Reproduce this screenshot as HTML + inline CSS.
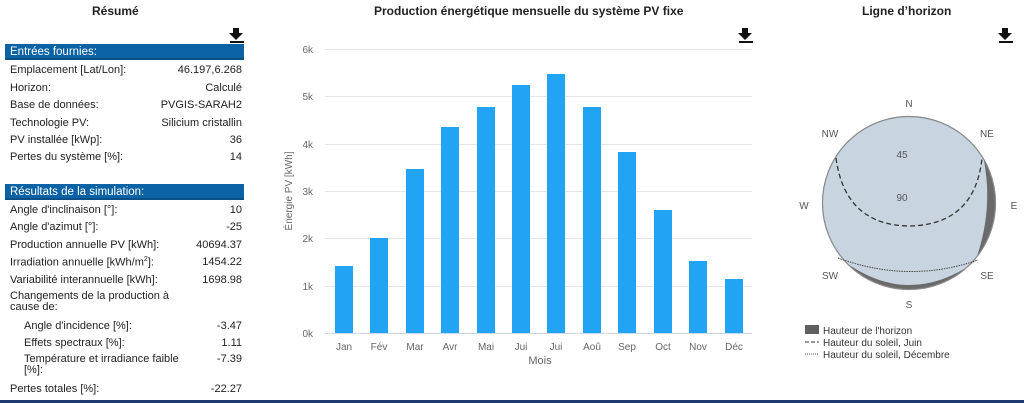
<!DOCTYPE html>
<html><head><meta charset="utf-8"><style>
body{margin:0;width:1024px;height:403px;background:#fff;font-family:"Liberation Sans",sans-serif;position:relative;overflow:hidden}
.hd{position:absolute;left:5px;width:239px;height:16px;background:#0b62a4;color:#fff;font-size:11.5px;line-height:16px;padding-left:5px;box-sizing:border-box;border-bottom:2px solid #0a4f85}
.r{position:absolute;left:10px;width:232px;font-size:11px;color:#222}
.r span{position:absolute;right:0;top:0}
.title{position:absolute;font-weight:bold;font-size:12px;color:#222}
</style></head><body>
<div class="title" style="left:92px;top:4px">Résumé</div>
<div class="title" style="left:374px;top:4px">Production énergétique mensuelle du système PV fixe</div>
<div class="title" style="left:862px;top:4px">Ligne d’horizon</div>
<svg style="position:absolute;left:0;top:0" width="1024" height="403">
<g fill="#111"><path d="M233 28h6v5h4l-7 7-7-7h4z"/><rect x="230" y="41" width="14" height="2"/>
<path d="M742 28h6v5h4l-7 7-7-7h4z"/><rect x="739" y="41" width="14" height="2"/>
<path d="M1002 28h6v5h4l-7 7-7-7h4z"/><rect x="999" y="41" width="14" height="2"/></g>
<rect x="0" y="400" width="1024" height="3" fill="#1f3a6e"/>
<g stroke="#e6e6e6" stroke-width="1">
<line x1="325" x2="752" y1="49.5" y2="49.5"/><line x1="325" x2="752" y1="96.5" y2="96.5"/><line x1="325" x2="752" y1="144.5" y2="144.5"/><line x1="325" x2="752" y1="191.5" y2="191.5"/><line x1="325" x2="752" y1="238.5" y2="238.5"/><line x1="325" x2="752" y1="286.5" y2="286.5"/></g>
<line x1="325" x2="752" y1="333.5" y2="333.5" stroke="#ccd6eb"/>
<g fill="#666" font-size="10" text-anchor="end">
<text x="313" y="53">6k</text><text x="313" y="100">5k</text><text x="313" y="148">4k</text><text x="313" y="195">3k</text><text x="313" y="242">2k</text><text x="313" y="290">1k</text><text x="313" y="337">0k</text></g>
<text transform="translate(292,191) rotate(-90)" font-size="10" fill="#666" text-anchor="middle">Énergie PV [kWh]</text>
<g fill="#20a4f3">
<rect x="335" y="266" width="18" height="67"/><rect x="370" y="238" width="18" height="95"/><rect x="406" y="169" width="18" height="164"/><rect x="441" y="127" width="18" height="206"/><rect x="477" y="107" width="18" height="226"/><rect x="512" y="85" width="18" height="248"/><rect x="547" y="74" width="18" height="259"/><rect x="583" y="107" width="18" height="226"/><rect x="618" y="152" width="18" height="181"/><rect x="654" y="210" width="18" height="123"/><rect x="689" y="261" width="18" height="72"/><rect x="725" y="279" width="18" height="54"/></g>
<g fill="#666" font-size="10" text-anchor="middle">
<text x="344" y="350">Jan</text><text x="379" y="350">Fév</text><text x="415" y="350">Mar</text><text x="450" y="350">Avr</text><text x="486" y="350">Mai</text><text x="521" y="350">Jui</text><text x="556" y="350">Jui</text><text x="592" y="350">Aoû</text><text x="627" y="350">Sep</text><text x="663" y="350">Oct</text><text x="698" y="350">Nov</text><text x="734" y="350">Déc</text>
<text x="540" y="364" font-size="11">Mois</text></g>
<circle cx="909" cy="203" r="87" fill="#6a6a6a"/>
<path d="M834.5 158 A87 87 0 0 1 983.5 158 Q994 210 975 262 Q909 308 845 262 A87 87 0 0 1 834.5 158Z" fill="#c8d5e0"/>
<circle cx="909" cy="203" r="86.5" fill="none" stroke="#8a8a8a" stroke-width="1.2"/>
<path d="M836 158 Q845 225 909 226 Q975 225 982 158" fill="none" stroke="#333" stroke-width="1.3" stroke-dasharray="5,3"/>
<path d="M838 258 Q909 284 978 260" fill="none" stroke="#444" stroke-width="1" stroke-dasharray="1.5,1"/>
<g fill="#555" font-size="10" text-anchor="middle">
<text x="909" y="107">N</text><text x="909" y="308">S</text><text x="804" y="209">W</text><text x="1014" y="209">E</text>
<text x="830" y="137">NW</text><text x="987" y="137">NE</text><text x="830" y="279">SW</text><text x="987" y="279">SE</text>
<text x="902" y="158">45</text><text x="902" y="201">90</text></g>
<rect x="805" y="325" width="14" height="9" fill="#5f5f5f"/>
<line x1="805" x2="819" y1="342" y2="342" stroke="#333" stroke-dasharray="4,2"/>
<line x1="805" x2="819" y1="354" y2="354" stroke="#555" stroke-dasharray="1,1"/>
<g fill="#333" font-size="10"><text x="823" y="334">Hauteur de l'horizon</text><text x="823" y="346">Hauteur du soleil, Juin</text><text x="823" y="358">Hauteur du soleil, Décembre</text></g>
</svg>
<div class="hd" style="top:44px">Entrées fournies:</div>
<div class="r" style="top:64px">Emplacement [Lat/Lon]:<span>46.197,6.268</span></div>
<div class="r" style="top:82px">Horizon:<span>Calculé</span></div>
<div class="r" style="top:99px">Base de données:<span>PVGIS-SARAH2</span></div>
<div class="r" style="top:117px">Technologie PV:<span>Silicium cristallin</span></div>
<div class="r" style="top:134px">PV installée [kWp]:<span>36</span></div>
<div class="r" style="top:151px">Pertes du système [%]:<span>14</span></div>
<div class="hd" style="top:184px">Résultats de la simulation:</div>
<div class="r" style="top:204px">Angle d'inclinaison [°]:<span>10</span></div>
<div class="r" style="top:221px">Angle d'azimut [°]:<span>-25</span></div>
<div class="r" style="top:239px">Production annuelle PV [kWh]:<span>40694.37</span></div>
<div class="r" style="top:256px">Irradiation annuelle [kWh/m<sup style="font-size:7px">2</sup>]:<span>1454.22</span></div>
<div class="r" style="top:274px">Variabilité interannuelle [kWh]:<span>1698.98</span></div>
<div class="r" style="top:291px;line-height:11px">Changements de la production à<br>cause de:</div>
<div class="r" style="top:320px;left:24px;width:218px">Angle d'incidence [%]:<span>-3.47</span></div>
<div class="r" style="top:337px;left:24px;width:218px">Effets spectraux [%]:<span>1.11</span></div>
<div class="r" style="top:354px;left:24px;width:218px;line-height:11px">Température et irradiance faible<br>[%]:<span>-7.39</span></div>
<div class="r" style="top:383px">Pertes totales [%]:<span>-22.27</span></div>
</body></html>
